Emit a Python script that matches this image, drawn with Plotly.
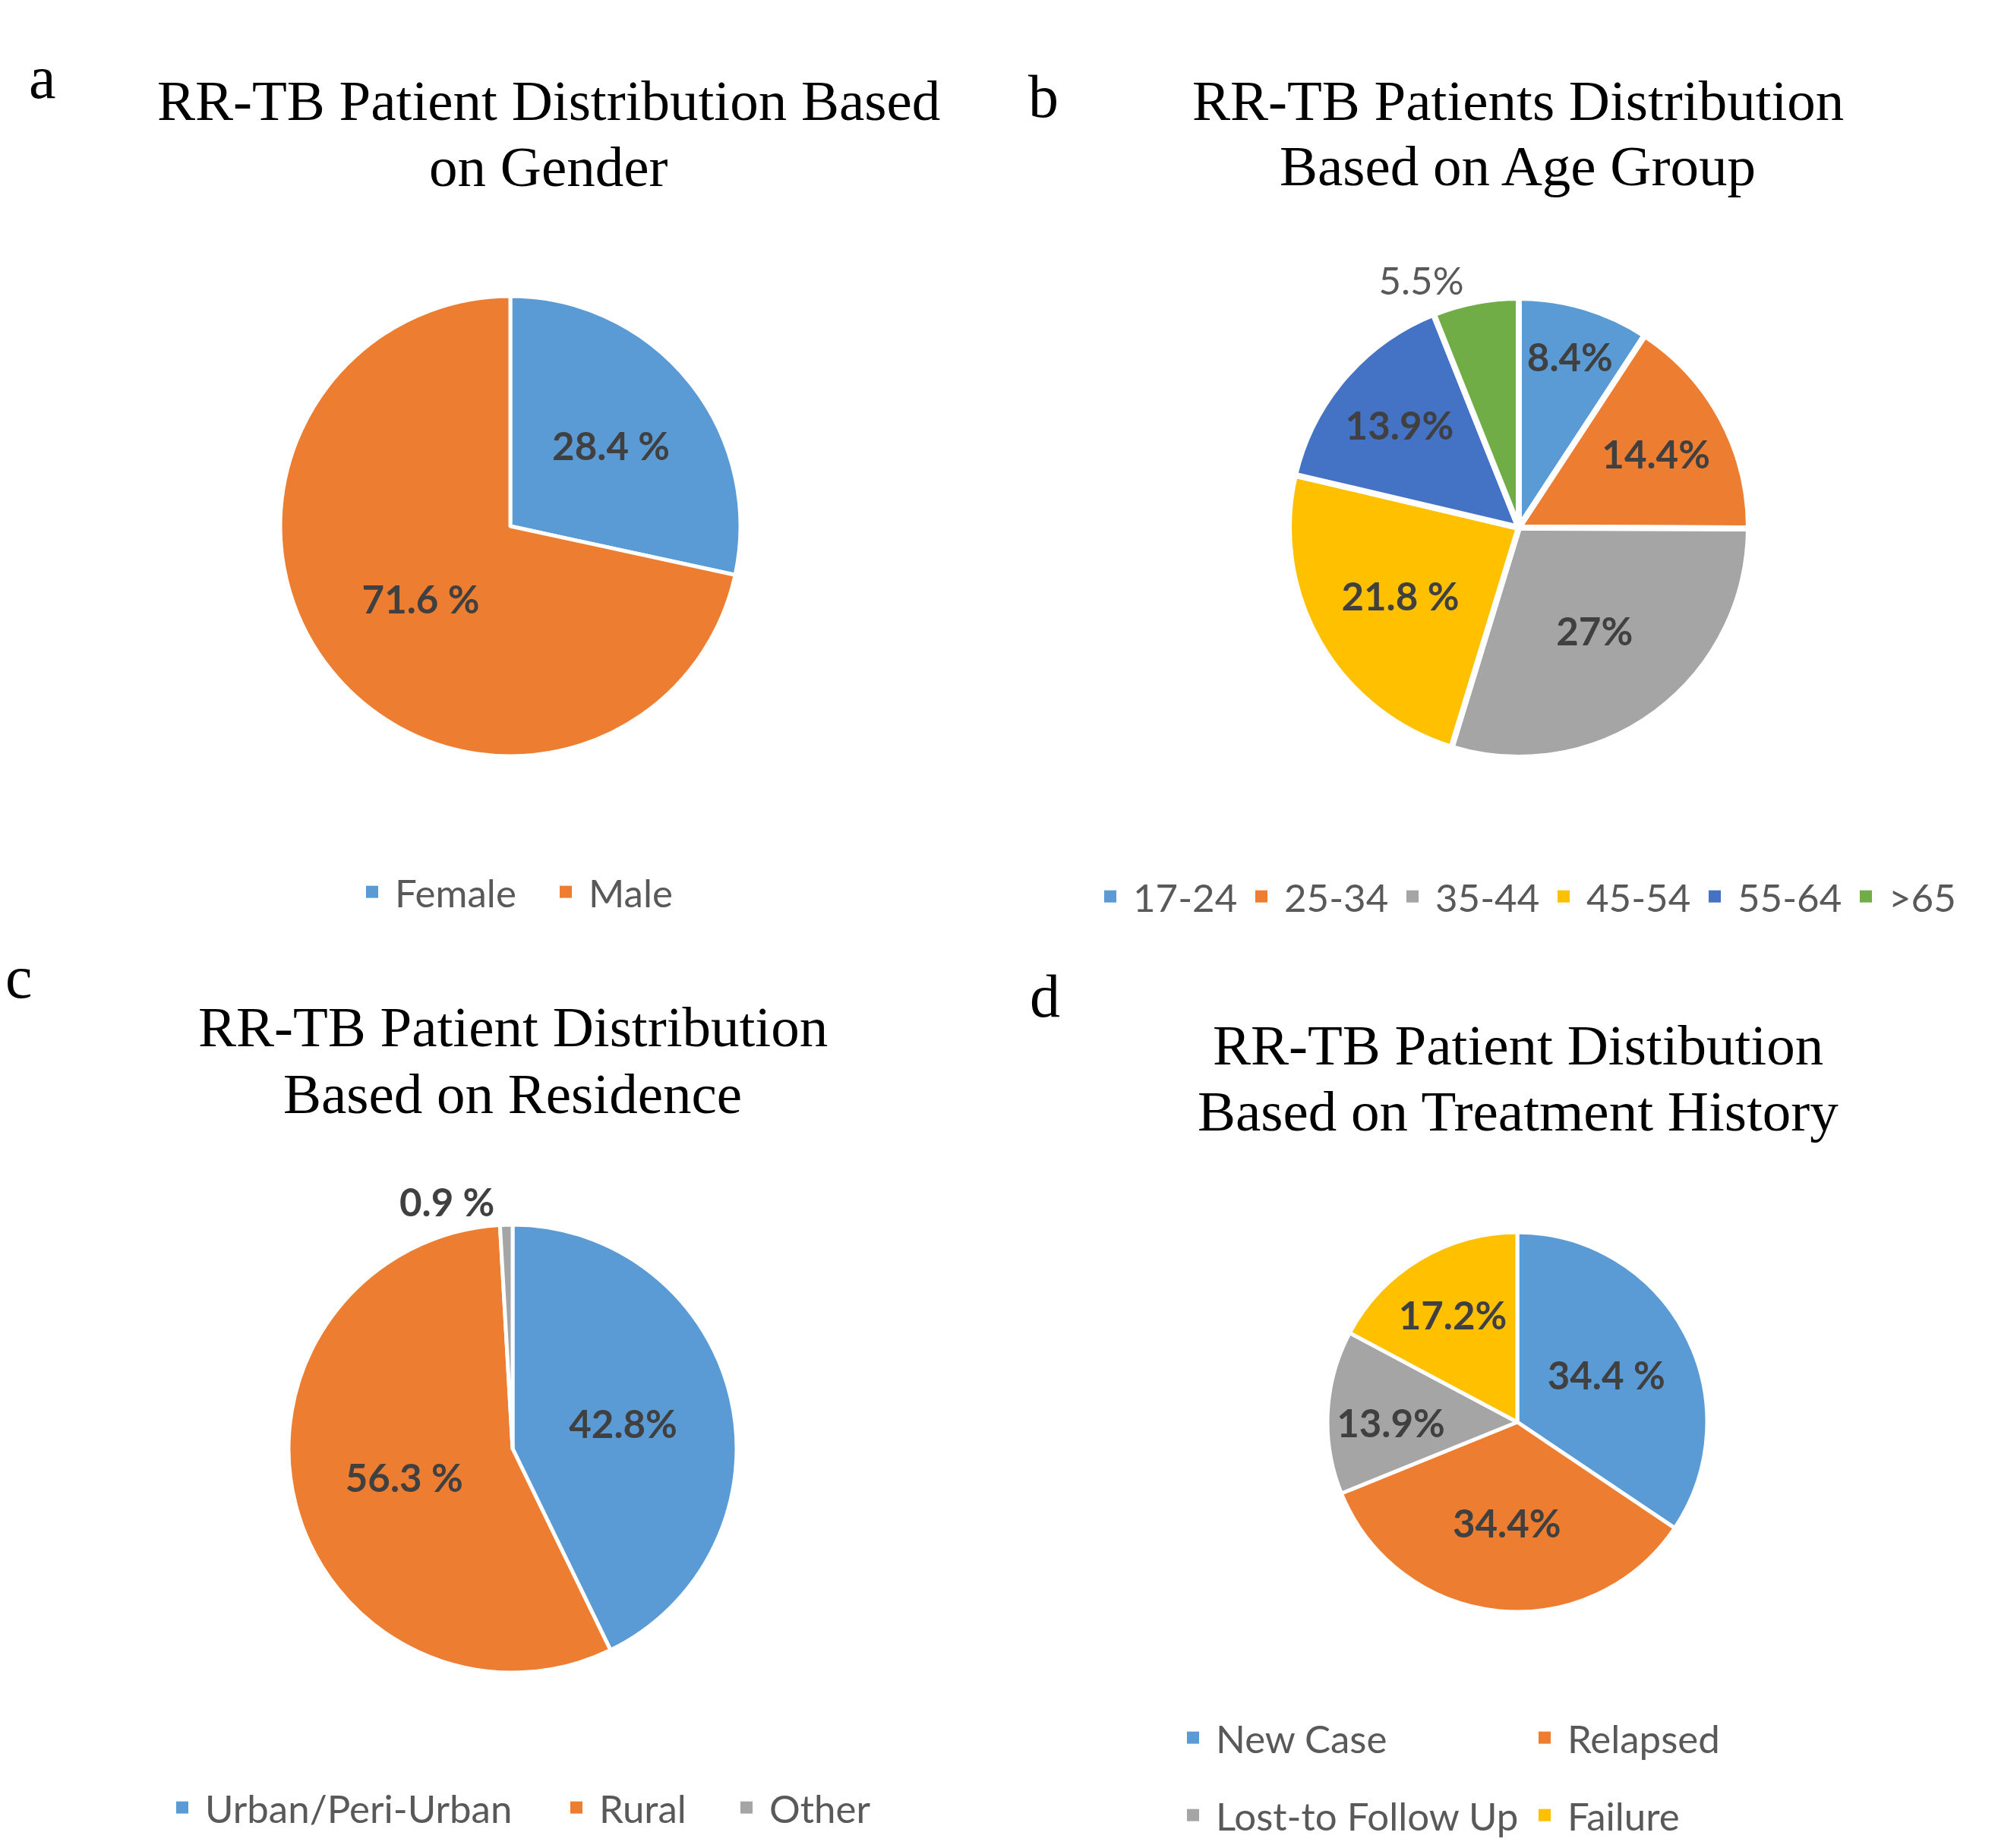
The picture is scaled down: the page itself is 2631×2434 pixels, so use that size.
import plotly.graph_objects as go

W, H = 2631, 2434

# ---------------- data ----------------
gender_labels = ["Female", "Male"]
gender_values = [28.4, 71.6]
gender_text = ["28.4 %", "71.6 %"]

age_labels = ["17-24", "25-34", "35-44", "45-54", "55-64", ">65"]
age_values = [8.4, 14.4, 27, 21.8, 13.9, 5.5]
age_text = ["8.4%", "14.4%", "27%", "21.8 %", "13.9%", "5.5%"]

res_labels = ["Urban/Peri-Urban", "Rural", "Other"]
res_values = [42.8, 56.3, 0.9]
res_text = ["42.8%", "56.3 %", "0.9 %"]

hist_labels = ["New Case", "Relapsed", "Lost-to Follow Up", "Failure"]
hist_values = [34.4, 34.4, 13.9, 17.2]
hist_text = ["34.4 %", "34.4%", "13.9%", "17.2%"]

titles = [
    ["RR-TB Patient Distribution Based", "on Gender"],
    ["RR-TB Patients Distribution", "Based on Age Group"],
    ["RR-TB Patient Distribution", "Based on Residence"],
    ["RR-TB Patient Distibution", "Based on Treatment History"],
]
panel_letters = ["a", "b", "c", "d"]

# ---------------- style ----------------
BLUE, ORANGE, GRAY, YELLOW, DBLUE, GREEN = "#5B9BD5", "#ED7D31", "#A5A5A5", "#FFC000", "#4472C4", "#70AD47"
LBL = "#404040"
LEG = "#595959"
SANS = "Lato"
SERIF = "Liberation Serif"


def dom(cx, cy, r):
    return dict(x=[(cx - r) / W, (cx + r) / W], y=[1 - (cy + r) / H, 1 - (cy - r) / H])


def px(x):
    return x / W


def py(y):
    return 1 - y / H


fig = go.Figure()

lw = 5
lab_size = 51

# a
fig.add_trace(go.Pie(
    labels=gender_labels, values=gender_values, text=gender_text, textinfo="text",
    sort=False, direction="clockwise", rotation=0,
    marker=dict(colors=[BLUE, ORANGE], line=dict(color="white", width=lw)),
    textposition="inside", insidetextorientation="horizontal",
    textfont=dict(family=SANS, size=lab_size, color=LBL, weight="bold"),
    domain=dom(672, 693, 303), showlegend=False, hoverinfo="label+percent",
))

# b
fig.add_trace(go.Pie(
    labels=age_labels, values=age_values, text=age_text, textinfo="text",
    sort=False, direction="clockwise", rotation=0,
    marker=dict(colors=[BLUE, ORANGE, GRAY, YELLOW, DBLUE, GREEN], line=dict(color="white", width=8)),
    textposition=["inside", "inside", "inside", "inside", "inside", "outside"],
    insidetextorientation="horizontal",
    textfont=dict(family=SANS, size=lab_size, color=[LBL] * 5 + [LEG],
                  weight=["bold"] * 5 + ["normal"]),
    domain=dom(2000, 695, 303), showlegend=False, hoverinfo="label+percent",
))

# c
fig.add_trace(go.Pie(
    labels=res_labels, values=res_values, text=res_text, textinfo="text",
    sort=False, direction="clockwise", rotation=0,
    marker=dict(colors=[BLUE, ORANGE, GRAY], line=dict(color="white", width=lw)),
    textposition=["inside", "inside", "outside"], insidetextorientation="horizontal",
    textfont=dict(family=SANS, size=lab_size, color=LBL, weight="bold"),
    domain=dom(675, 1908, 295), showlegend=False, hoverinfo="label+percent",
))

# d
fig.add_trace(go.Pie(
    labels=hist_labels, values=hist_values, text=hist_text, textinfo="text",
    sort=False, direction="clockwise", rotation=0,
    marker=dict(colors=[BLUE, ORANGE, GRAY, YELLOW], line=dict(color="white", width=lw)),
    textposition="inside", insidetextorientation="horizontal",
    textfont=dict(family=SANS, size=lab_size, color=LBL, weight="bold"),
    domain=dom(1998, 1873, 250), showlegend=False, hoverinfo="label+percent",
))


# legend entries (square swatches)
def add_leg(names, colors, legend, widths):
    for n, c, w in zip(names, colors, widths):
        fig.add_trace(go.Scatter(
            x=[None], y=[None], mode="markers", name=n, legend=legend, legendwidth=w,
            marker=dict(symbol="square", size=16, color=c), hoverinfo="skip",
        ))


add_leg(gender_labels, [BLUE, ORANGE], "legend", [190, 120])
add_leg(age_labels, [BLUE, ORANGE, GRAY, YELLOW, DBLUE, GREEN], "legend2", [134] * 6)
add_leg(res_labels, [BLUE, ORANGE, GRAY], "legend3", [454, 159, 140])
add_leg(hist_labels[:2], [BLUE, ORANGE], "legend4", [398, 260])
add_leg(hist_labels[2:], [GRAY, YELLOW], "legend5", [398, 200])

leg_common = dict(orientation="h", font=dict(family=SANS, size=51, color=LEG),
                  bgcolor="rgba(0,0,0,0)", itemclick=False, itemdoubleclick=False,
                  itemwidth=50, xanchor="left", yanchor="middle")

annotations = []
title_pos = [
    (722, [132, 219]),
    (1999, [132, 218]),
    (675, [1352, 1440]),
    (1999, [1376, 1463]),
]
for (tx, tys), lines in zip(title_pos, titles):
    for ty, line in zip(tys, lines):
        annotations.append(dict(text=line, x=px(tx), y=py(ty), xref="paper", yref="paper",
                                xanchor="center", yanchor="middle", showarrow=False,
                                font=dict(family=SERIF, size=75, color="black")))

letter_pos = [(56, 102), (1374, 127), (25, 1287), (1376, 1312)]
for (lx, ly), t in zip(letter_pos, panel_letters):
    annotations.append(dict(text=t, x=px(lx), y=py(ly), xref="paper", yref="paper",
                            xanchor="center", yanchor="middle", showarrow=False,
                            font=dict(family=SERIF, size=80, color="black")))

fig.update_layout(
    width=W, height=H,
    margin=dict(l=0, r=0, t=0, b=0),
    paper_bgcolor="white", plot_bgcolor="white",
    xaxis=dict(visible=False), yaxis=dict(visible=False),
    annotations=annotations,
    legend=dict(x=px(460), y=py(1175), **leg_common),
    legend2=dict(x=px(1432), y=py(1181), **leg_common),
    legend3=dict(x=px(210), y=py(2381), **leg_common),
    legend4=dict(x=px(1541), y=py(2289), **leg_common),
    legend5=dict(x=px(1541), y=py(2391), **leg_common),
)

fig.write_html("out.html")
